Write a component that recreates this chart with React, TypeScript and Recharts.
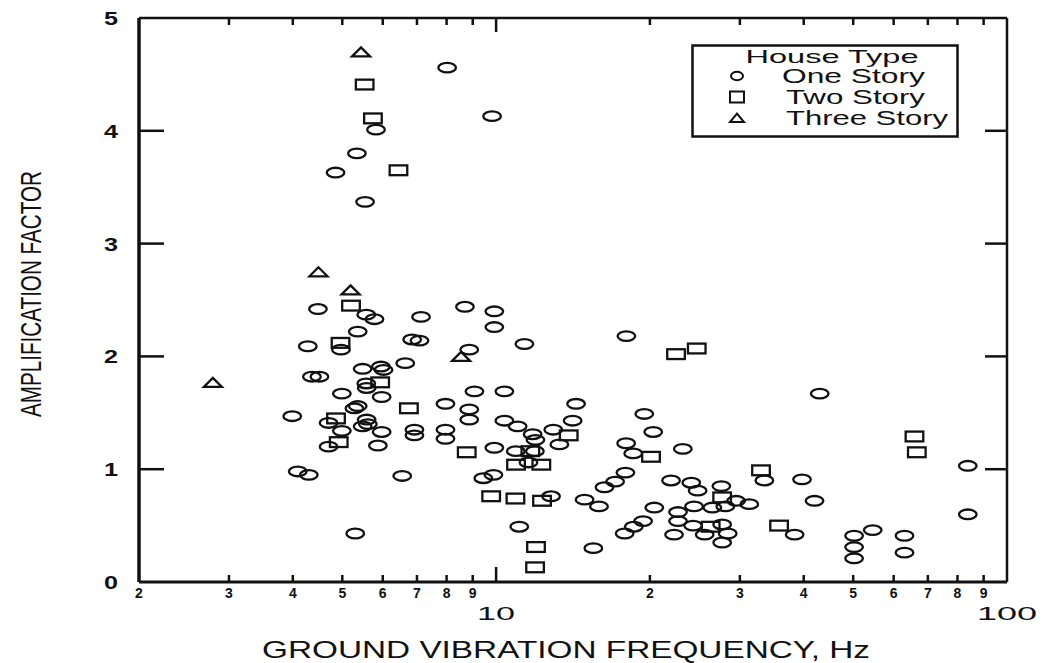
import React from 'react';
import { ScatterChart, Scatter, XAxis, YAxis, Legend } from 'recharts';

// ---- data (frequency Hz, amplification factor) ----
const oneStory: [number, number][] = [
  [8.02, 4.56], [9.82, 4.13], [5.82, 4.01], [5.34, 3.8], [4.85, 3.63], [5.54, 3.37],
  [4.48, 2.42], [5.57, 2.37], [5.78, 2.33], [7.13, 2.35], [8.69, 2.44], [9.92, 2.4], [9.92, 2.26],
  [5.36, 2.22], [4.28, 2.09], [4.97, 2.06], [6.85, 2.15], [7.08, 2.14], [8.86, 2.06], [11.36, 2.11],
  [6.64, 1.94], [5.48, 1.89], [5.95, 1.91], [6.02, 1.88], [4.36, 1.82], [4.51, 1.82], [5.57, 1.76],
  [5.58, 1.72], [5.97, 1.64], [4.99, 1.67], [7.96, 1.58], [9.07, 1.69], [10.38, 1.69], [5.36, 1.56],
  [5.28, 1.54], [8.86, 1.53], [8.86, 1.44], [3.99, 1.47], [4.7, 1.41], [5.58, 1.44], [5.61, 1.4],
  [5.48, 1.38], [4.99, 1.34], [5.97, 1.33], [6.92, 1.35], [6.92, 1.3], [7.96, 1.35], [7.96, 1.27],
  [4.7, 1.2], [5.87, 1.21], [9.92, 1.19], [4.09, 0.98], [4.3, 0.95], [6.55, 0.94], [9.44, 0.92],
  [9.88, 0.95], [5.3, 0.43], [10.93, 1.16], [11.91, 1.16], [11.57, 1.06], [11.79, 1.31], [11.94, 1.26],
  [10.38, 1.43], [11.02, 1.38], [12.94, 1.35], [13.3, 1.22], [14.12, 1.43], [14.34, 1.58], [12.81, 0.76],
  [11.1, 0.49], [17.99, 2.18], [43.0, 1.67], [19.5, 1.49], [20.3, 1.33], [17.97, 1.23], [18.55, 1.14],
  [23.2, 1.18], [17.91, 0.97], [17.1, 0.89], [16.3, 0.84], [22.0, 0.9], [24.1, 0.88], [24.8, 0.81],
  [27.6, 0.85], [29.5, 0.72], [31.3, 0.69], [26.5, 0.66], [28.1, 0.67], [24.4, 0.67], [22.7, 0.62],
  [22.7, 0.54], [24.3, 0.5], [27.7, 0.51], [28.4, 0.43], [25.6, 0.42], [22.3, 0.42], [27.7, 0.35],
  [20.4, 0.66], [14.9, 0.73], [15.9, 0.67], [19.4, 0.54], [18.6, 0.49], [17.85, 0.43], [15.5, 0.3],
  [33.5, 0.9], [39.7, 0.91], [42.0, 0.72], [38.4, 0.42], [50.2, 0.41], [50.2, 0.31], [50.2, 0.21],
  [54.6, 0.46], [63.0, 0.41], [63.0, 0.26], [83.8, 1.03], [83.8, 0.6],
];

const twoStory: [number, number][] = [
  [5.53, 4.41], [5.74, 4.11], [6.44, 3.65], [5.2, 2.45], [4.96, 2.12], [5.93, 1.77], [6.75, 1.54],
  [4.86, 1.45], [4.92, 1.24], [8.76, 1.15], [9.78, 0.76], [11.67, 1.16], [10.94, 1.04], [12.26, 1.04],
  [13.87, 1.3], [10.91, 0.74], [12.3, 0.72], [11.97, 0.31], [11.92, 0.13], [22.5, 2.02], [24.7, 2.07],
  [20.1, 1.11], [27.7, 0.75], [26.3, 0.49], [33.0, 0.99], [35.8, 0.5], [65.9, 1.29], [66.6, 1.15],
];

const threeStory: [number, number][] = [
  [5.44, 4.7], [4.49, 2.75], [5.19, 2.59], [8.54, 2.0], [2.79, 1.77],
];

const seriesNames = ['One Story', 'Two Story', 'Three Story'];
const legendTitle = 'House Type';

const xTicks = [2, 3, 4, 5, 6, 7, 8, 9, 10, 20, 30, 40, 50, 60, 70, 80, 90, 100];
const xTickLabels = ['2', '3', '4', '5', '6', '7', '8', '9', '10', '2', '3', '4', '5', '6', '7', '8', '9', '100'];
const yTicks = [0, 1, 2, 3, 4, 5];

const xTitle = 'GROUND VIBRATION FREQUENCY, Hz';
const yTitle = 'AMPLIFICATION FACTOR';

const toPoints = (arr: [number, number][]) => arr.map(([f, a]) => ({ f, a }));

const FONT = '"Liberation Sans", Arial, Helvetica, sans-serif';
const INK = '#111';

const CircleShape = (p: any) => (
  <ellipse cx={p.cx} cy={p.cy} rx={8.8} ry={4.8} fill="none" stroke={INK} strokeWidth={2.3} />
);
const SquareShape = (p: any) => (
  <rect x={p.cx - 8.8} y={p.cy - 4.9} width={17.6} height={9.8} fill="none" stroke={INK} strokeWidth={2.3} />
);
const TriangleShape = (p: any) => (
  <polygon
    points={`${p.cx - 9},${p.cy + 4.5} ${p.cx + 9},${p.cy + 4.5} ${p.cx},${p.cy - 4.5}`}
    fill="none"
    stroke={INK}
    strokeWidth={2.3}
    strokeLinejoin="miter"
  />
);

const BottomTick = (props: any) => {
  const { x, y, payload } = props;
  const v = payload.value;
  const i = xTicks.indexOf(v);
  const label = xTickLabels[i];
  const isMajor = v === 10;
  const big = v === 10 || v === 100;
  return (
    <g>
      {v !== 2 && v !== 100 && (
        <line x1={x} y1={y} x2={x} y2={y - (isMajor ? 15 : 7)} stroke={INK} strokeWidth={2.5} />
      )}
      {big ? (
        <text
          x={x}
          y={y + 38}
          textAnchor="middle"
          fontSize={19}
          fontFamily={FONT}
          fill={INK}
          textLength={v === 10 ? 38 : 60}
          lengthAdjust="spacingAndGlyphs"
        >
          {label}
        </text>
      ) : (
        <text x={x} y={y + 16} textAnchor="middle" fontSize={14} fontWeight="bold" fontFamily={FONT} fill={INK}>
          {label}
        </text>
      )}
    </g>
  );
};

const TopTick = (props: any) => {
  const { x, y, payload } = props;
  const v = payload.value;
  if (v === 2 || v === 100) return <g />;
  return <line x1={x} y1={y} x2={x} y2={y + (v === 10 ? 14 : 7)} stroke={INK} strokeWidth={2.5} />;
};

const LeftTick = (props: any) => {
  const { x, y, payload } = props;
  const v = payload.value;
  return (
    <g>
      {v !== 0 && v !== 5 && <line x1={x} y1={y} x2={x + 25} y2={y} stroke={INK} strokeWidth={2.5} />}
      <text
        x={x - 28}
        y={y + 7}
        textAnchor="middle"
        fontSize={18}
        fontWeight="bold"
        fontFamily={FONT}
        fill={INK}
        textLength={14}
        lengthAdjust="spacingAndGlyphs"
      >
        {String(v)}
      </text>
    </g>
  );
};

const RightTick = (props: any) => {
  const { x, y, payload } = props;
  const v = payload.value;
  if (v === 0 || v === 5) return <g />;
  return <line x1={x} y1={y} x2={x - 22} y2={y} stroke={INK} strokeWidth={2.5} />;
};

const shapeFor = [CircleShape, SquareShape, TriangleShape];

const LegendBox = (props: any) => {
  const payload = props.payload || [];
  const rows = [
    { cy: 32, tx: 91, len: 143 },
    { cy: 53, tx: 95, len: 139 },
    { cy: 74, tx: 95, len: 162 },
  ];
  const ordered = seriesNames
    .map((n) => payload.find((e: any) => e.value === n))
    .filter(Boolean);
  return (
    <svg width={270} height={96} style={{ display: 'block', overflow: 'visible' }}>
      <rect x={1.5} y={1.5} width={265} height={91} fill="#fff" stroke={INK} strokeWidth={2.5} />
      <text x={141} y={19} textAnchor="middle" fontSize={19} fontFamily={FONT} fill={INK} textLength={173} lengthAdjust="spacingAndGlyphs">
        {legendTitle}
      </text>
      {ordered.map((entry: any) => {
        const i = seriesNames.indexOf(entry.value);
        const r = rows[i];
        const mx = 46;
        let marker;
        if (i === 0) marker = <ellipse cx={mx} cy={r.cy} rx={6} ry={4.3} fill="none" stroke={INK} strokeWidth={2} />;
        else if (i === 1) marker = <rect x={mx - 7} y={r.cy - 5.5} width={14} height={11} fill="none" stroke={INK} strokeWidth={2} />;
        else marker = <polygon points={`${mx - 7},${r.cy + 4} ${mx + 7},${r.cy + 4} ${mx},${r.cy - 4.5}`} fill="none" stroke={INK} strokeWidth={2} />;
        return (
          <g key={entry.value}>
            {marker}
            <text x={r.tx} y={r.cy + 7} fontSize={20} fontFamily={FONT} fill={INK} textLength={r.len} lengthAdjust="spacingAndGlyphs">
              {entry.value}
            </text>
          </g>
        );
      })}
    </svg>
  );
};

const XTitle = (props: any) => {
  const vb = props.viewBox;
  return (
    <text
      x={vb.x + vb.width / 2 - 7}
      y={vb.y + 76}
      textAnchor="middle"
      fontSize={24}
      fontFamily={FONT}
      fill={INK}
      textLength={608}
      lengthAdjust="spacingAndGlyphs"
    >
      {xTitle}
    </text>
  );
};

const YTitle = (props: any) => {
  const vb = props.viewBox;
  const cx = vb.x - 108;
  const cy = vb.y + vb.height / 2 - 6;
  return (
    <text
      transform={`translate(${cx},${cy}) rotate(-90) scale(1,1.35)`}
      x={0}
      y={0}
      dy={8}
      textAnchor="middle"
      fontSize={22}
      fontFamily={FONT}
      fill={INK}
      textLength={246}
      lengthAdjust="spacingAndGlyphs"
    >
      {yTitle}
    </text>
  );
};

export default function App() {
  const data = [toPoints(oneStory), toPoints(twoStory), toPoints(threeStory)];
  return (
    <div style={{ position: 'relative', width: 1045, height: 663, background: '#fff', fontFamily: FONT }}>
      <style>{`body{margin:0;overflow:hidden;background:#fff}`}</style>
      <ScatterChart width={1045} height={663} margin={{ top: 17, right: 37, bottom: 80, left: 138 }}>
        <XAxis
          xAxisId={0}
          dataKey="f"
          type="number"
          scale="log"
          domain={[2, 100]}
          allowDataOverflow
          ticks={xTicks}
          interval={0}
          height={1}
          tickSize={0}
          tickMargin={0}
          tickLine={false}
          tick={BottomTick}
          axisLine={{ stroke: INK, strokeWidth: 3 }}
          label={{ content: XTitle }}
        />
        <XAxis
          xAxisId="top"
          orientation="top"
          dataKey="f"
          type="number"
          scale="log"
          domain={[2, 100]}
          allowDataOverflow
          ticks={xTicks}
          interval={0}
          height={1}
          tickSize={0}
          tickMargin={0}
          tickLine={false}
          tick={TopTick}
          axisLine={{ stroke: INK, strokeWidth: 2.5 }}
        />
        <YAxis
          yAxisId={0}
          dataKey="a"
          type="number"
          domain={[0, 5]}
          allowDataOverflow
          ticks={yTicks}
          interval={0}
          width={1}
          tickSize={0}
          tickMargin={0}
          tickLine={false}
          tick={LeftTick}
          axisLine={{ stroke: INK, strokeWidth: 3.5 }}
          label={{ content: YTitle }}
        />
        <YAxis
          yAxisId="right"
          orientation="right"
          dataKey="a"
          type="number"
          domain={[0, 5]}
          allowDataOverflow
          ticks={yTicks}
          interval={0}
          width={1}
          tickSize={0}
          tickMargin={0}
          tickLine={false}
          tick={RightTick}
          axisLine={{ stroke: INK, strokeWidth: 2.5 }}
        />
        <Legend
          layout="vertical"
          align="center"
          verticalAlign="middle"
          content={LegendBox}
          wrapperStyle={{ left: 691, top: 44, width: 270, height: 96 }}
        />
        {data.map((d, i) => (
          <Scatter
            key={seriesNames[i]}
            name={seriesNames[i]}
            data={d}
            xAxisId={0}
            yAxisId={0}
            fill="none"
            stroke={INK}
            shape={shapeFor[i]}
            isAnimationActive={false}
          />
        ))}
      </ScatterChart>
    </div>
  );
}
